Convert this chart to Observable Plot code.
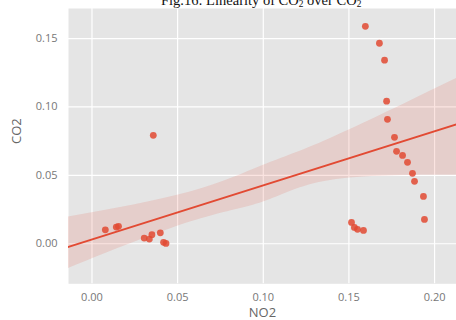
<!DOCTYPE html>
<html><head><meta charset="utf-8">
<script src="https://cdn.jsdelivr.net/npm/d3@7"></script>
<script src="https://cdn.jsdelivr.net/npm/@observablehq/plot@0.6"></script>
<style>
html,body{margin:0;padding:0;background:#fff;width:456px;height:320px;overflow:hidden}
#title{position:absolute;left:161px;top:-7px;font-family:"Liberation Serif","Times New Roman",serif;font-size:14.5px;line-height:1;color:#111;white-space:nowrap}
#title sub{font-size:0.65em;vertical-align:-0.2em;line-height:0}
#chart{position:absolute;left:0;top:8px}
</style></head><body>
<div id="title">Fig.16: Linearity of CO<sub>2</sub> over CO<sub>2</sub></div>
<div id="chart"></div>
<script>
// scatter points
const no2 = [0.1596,0.1678,0.1708,0.1720,0.1725,0.1766,0.1778,0.1813,0.1842,0.1871,0.1883,0.1935,0.1941,0.1515,0.1532,0.1550,0.1585,0.0358,0.0078,0.0142,0.0155,0.0305,0.0335,0.0350,0.0399,0.0418,0.0432];
const co2 = [0.1590,0.1466,0.1342,0.1042,0.0910,0.0778,0.0676,0.0646,0.0595,0.0515,0.0456,0.0346,0.0178,0.0156,0.0119,0.0105,0.0097,0.0793,0.0102,0.0122,0.0127,0.0041,0.0034,0.0066,0.0080,0.0010,0.0002];
// regression line and its confidence band
const fitNo2 = [-0.0137, 0.2128];
const fitCo2 = [-0.0023, 0.0873];
const bandNo2 = [-0.0137, 0.0574, 0.1001, 0.1392, 0.2128];
const bandLo  = [-0.0181, 0.0158, 0.0305, 0.0463, 0.0500];
const bandHi  = [0.0195, 0.0378, 0.0573, 0.0769, 0.1208];
// axes
const xTicks = [0, 0.05, 0.10, 0.15, 0.20];
const yTicks = [0, 0.05, 0.10, 0.15];
const xDomain = [-0.0137, 0.2128];
const yDomain = [-0.0293, 0.172];

const pts = no2.map((x, i) => ({x, y: co2[i]}));
const fit = fitNo2.map((x, i) => ({x, y: fitCo2[i]}));
const band = bandNo2.map((x, i) => ({x, lo: bandLo[i], hi: bandHi[i]}));

const font = "'Open Sans', 'DejaVu Sans', sans-serif";
const chart = Plot.plot({
  width: 456, height: 312,
  marginLeft: 68, marginRight: 0, marginTop: 0, marginBottom: 36.7,
  style: {fontFamily: font, fontSize: "11px", color: "#777", background: "transparent"},
  x: {domain: xDomain, ticks: xTicks, tickFormat: d3.format(".2f")},
  y: {domain: yDomain, ticks: yTicks, tickFormat: d3.format(".2f")},
  marks: [
    Plot.frame({fill: "#e5e5e5", stroke: null}),
    Plot.gridX(xTicks, {stroke: "#fff", strokeOpacity: 1, strokeWidth: 1.2}),
    Plot.gridY(yTicks, {stroke: "#fff", strokeOpacity: 1, strokeWidth: 1.2}),
    Plot.areaY(band, {x: "x", y1: "lo", y2: "hi", fill: "#e24a33", fillOpacity: 0.15, curve: "natural", clip: true}),
    Plot.line(fit, {x: "x", y: "y", stroke: "#e24a33", strokeWidth: 2, clip: true}),
    Plot.dot(pts, {x: "x", y: "y", r: 3.4, fill: "#e24a33", fillOpacity: 0.85, stroke: null}),
    Plot.axisX(xTicks, {tickSize: 0, tickPadding: 9, label: null, fill: "#777"}),
    Plot.axisY(yTicks, {tickSize: 0, tickPadding: 11, label: null, fill: "#777"}),
    Plot.text(["NO2"], {frameAnchor: "bottom", dy: 29, lineAnchor: "middle", textAnchor: "middle", fontSize: 13, fill: "#666"}),
    Plot.text(["CO2"], {frameAnchor: "left", dx: -52, dy: -15, rotate: -90, lineAnchor: "middle", textAnchor: "middle", fontSize: 13, fill: "#666"})
  ]
});
document.getElementById("chart").append(chart);
</script>
</body></html>
